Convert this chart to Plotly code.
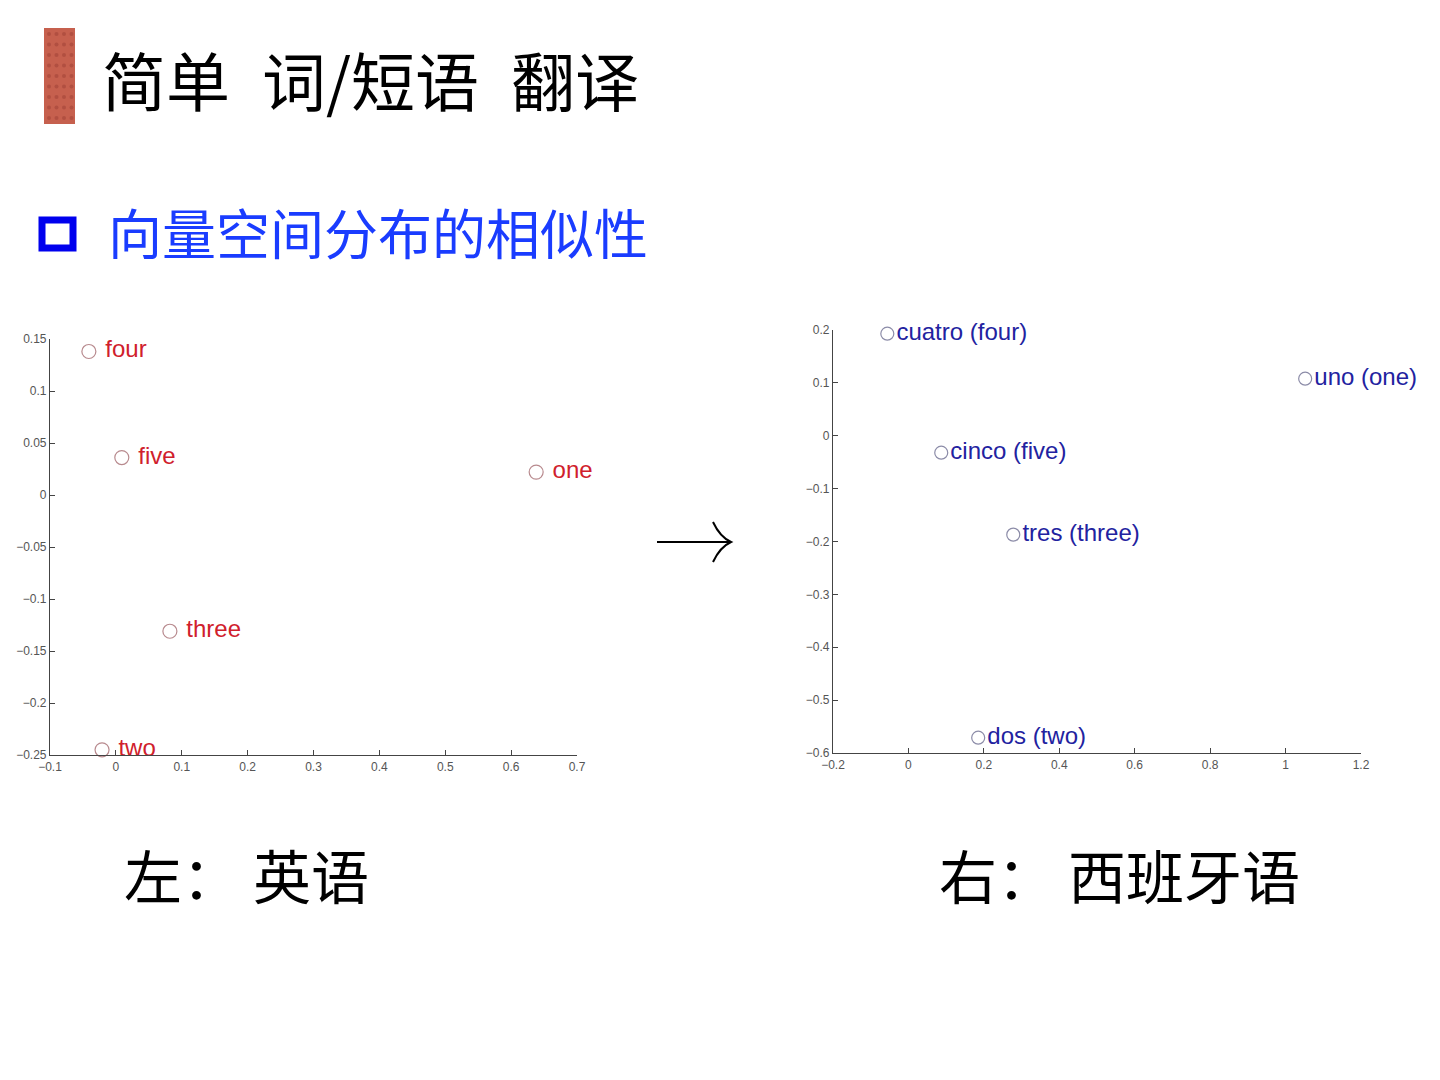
import plotly.graph_objects as go

# ---------------- data ----------------
en_words = ["four", "five", "one", "three", "two"]
en_x = [-0.041, 0.009, 0.638, 0.082, -0.021]
en_y = [0.138, 0.036, 0.022, -0.131, -0.245]

es_words = ["cuatro (four)", "uno (one)", "cinco (five)", "tres (three)", "dos (two)"]
es_x = [-0.056, 1.052, 0.087, 0.278, 0.185]
es_y = [0.193, 0.108, -0.032, -0.187, -0.571]

en_xticks = [-0.1, 0, 0.1, 0.2, 0.3, 0.4, 0.5, 0.6, 0.7]
en_xtext = ["\u22120.1", "0", "0.1", "0.2", "0.3", "0.4", "0.5", "0.6", "0.7"]
en_yticks = [0.15, 0.1, 0.05, 0, -0.05, -0.1, -0.15, -0.2, -0.25]
en_ytext = ["0.15", "0.1", "0.05", "0", "\u22120.05", "\u22120.1", "\u22120.15", "\u22120.2", "\u22120.25"]

es_xticks = [-0.2, 0, 0.2, 0.4, 0.6, 0.8, 1.0, 1.2]
es_xtext = ["\u22120.2", "0", "0.2", "0.4", "0.6", "0.8", "1", "1.2"]
es_yticks = [0.2, 0.1, 0, -0.1, -0.2, -0.3, -0.4, -0.5, -0.6]
es_ytext = ["0.2", "0.1", "0", "\u22120.1", "\u22120.2", "\u22120.3", "\u22120.4", "\u22120.5", "\u22120.6"]

title_text = "简单\u2002词/短语\u2002翻译"
subtitle_text = "向量空间分布的相似性"
left_caption = "左： 英语"
right_caption = "右： 西班牙语"

W, H = 1440, 1080


def px(x):
    return x / W


def py(y):
    return 1 - y / H


fig = go.Figure()

fig.add_trace(go.Scatter(
    x=en_x, y=en_y, mode="markers+text", text=en_words, texttemplate=" %{text}",
    textposition="middle right",
    textfont=dict(family="Liberation Sans, Arial, sans-serif", size=24, color="#d0202c"),
    marker=dict(symbol="circle-open", size=14, color="#b88a8e", line=dict(width=1.2)),
    xaxis="x", yaxis="y", showlegend=False, cliponaxis=False,
))

fig.add_trace(go.Scatter(
    x=es_x, y=es_y, mode="markers+text", text=es_words, texttemplate="%{text}",
    textposition="middle right",
    textfont=dict(family="Liberation Sans, Arial, sans-serif", size=24, color="#2222a0"),
    marker=dict(symbol="circle-open", size=13, color="#8c8ca8", line=dict(width=1.2)),
    xaxis="x2", yaxis="y2", showlegend=False, cliponaxis=False,
))

axis_common = dict(
    showgrid=False, zeroline=False, showline=True, linecolor="#444444", linewidth=1.2,
    ticks="inside", ticklen=5, tickcolor="#444444", mirror=False, automargin=False,
    tickfont=dict(family="Liberation Sans, Arial, sans-serif", size=12, color="#555555"),
    tickmode="array",
)

fig.update_layout(
    width=W, height=H,
    margin=dict(l=0, r=0, t=0, b=0, autoexpand=False),
    paper_bgcolor="white", plot_bgcolor="white",
    xaxis=dict(axis_common, domain=[px(50), px(577)], range=[-0.1, 0.7],
               tickvals=en_xticks, ticktext=en_xtext, anchor="y"),
    yaxis=dict(axis_common, domain=[py(755), py(339)], range=[-0.25, 0.15],
               tickvals=en_yticks, ticktext=en_ytext, anchor="x"),
    xaxis2=dict(axis_common, domain=[px(833), px(1361)], range=[-0.2, 1.2],
                tickvals=es_xticks, ticktext=es_xtext, anchor="y2"),
    yaxis2=dict(axis_common, domain=[py(753), py(330)], range=[-0.6, 0.2],
                tickvals=es_yticks, ticktext=es_ytext, anchor="x2"),
)

cjk = "Noto Sans CJK SC, sans-serif"
annotations = [
    dict(text=title_text, x=px(100), y=py(78), xanchor="left", yanchor="middle",
         font=dict(family=cjk, size=64, color="#000000")),
    dict(text=subtitle_text, x=px(106), y=py(232), xanchor="left", yanchor="middle",
         font=dict(family=cjk, size=54, color="#1a3cff")),
    dict(text=left_caption, x=px(122), y=py(874), xanchor="left", yanchor="middle",
         font=dict(family=cjk, size=58, color="#000000")),
    dict(text=right_caption, x=px(937), y=py(874), xanchor="left", yanchor="middle",
         font=dict(family=cjk, size=58, color="#000000")),
]
for a in annotations:
    a.update(xref="paper", yref="paper", showarrow=False)
fig.update_layout(annotations=annotations)

shapes = [
    # decorative red bar next to title
    dict(type="rect", xref="paper", yref="paper", x0=px(44), x1=px(75), y0=py(124), y1=py(28),
         fillcolor="#c6604e", line=dict(width=0)),
    # blue hollow square bullet
    dict(type="rect", xref="paper", yref="paper", x0=px(42), x1=px(73), y0=py(248), y1=py(220),
         fillcolor="rgba(0,0,0,0)", line=dict(color="#0000ee", width=7)),
    # arrow shaft
    dict(type="line", xref="paper", yref="paper", x0=px(657), x1=px(731), y0=py(542), y1=py(542),
         line=dict(color="#000000", width=2)),
    # arrow head
    dict(type="path", xref="paper", yref="paper",
         path=f"M {px(713)},{py(522)} Q {px(720)},{py(537)} {px(731)},{py(542)} Q {px(720)},{py(547)} {px(713)},{py(562)}",
         line=dict(color="#000000", width=2)),
]
for i in range(4):
    for j in range(9):
        cx = 47 + i * 7.5
        cy = 32 + j * 10.5
        shapes.append(dict(type="circle", xref="paper", yref="paper",
                           x0=px(cx), x1=px(cx + 4), y0=py(cy + 4), y1=py(cy),
                           fillcolor="#a8483c", line=dict(width=0), opacity=0.7))
fig.update_layout(shapes=shapes)

fig.write_html("out.html", config={"displayModeBar": False},
               post_script="document.body.style.margin='0';")
